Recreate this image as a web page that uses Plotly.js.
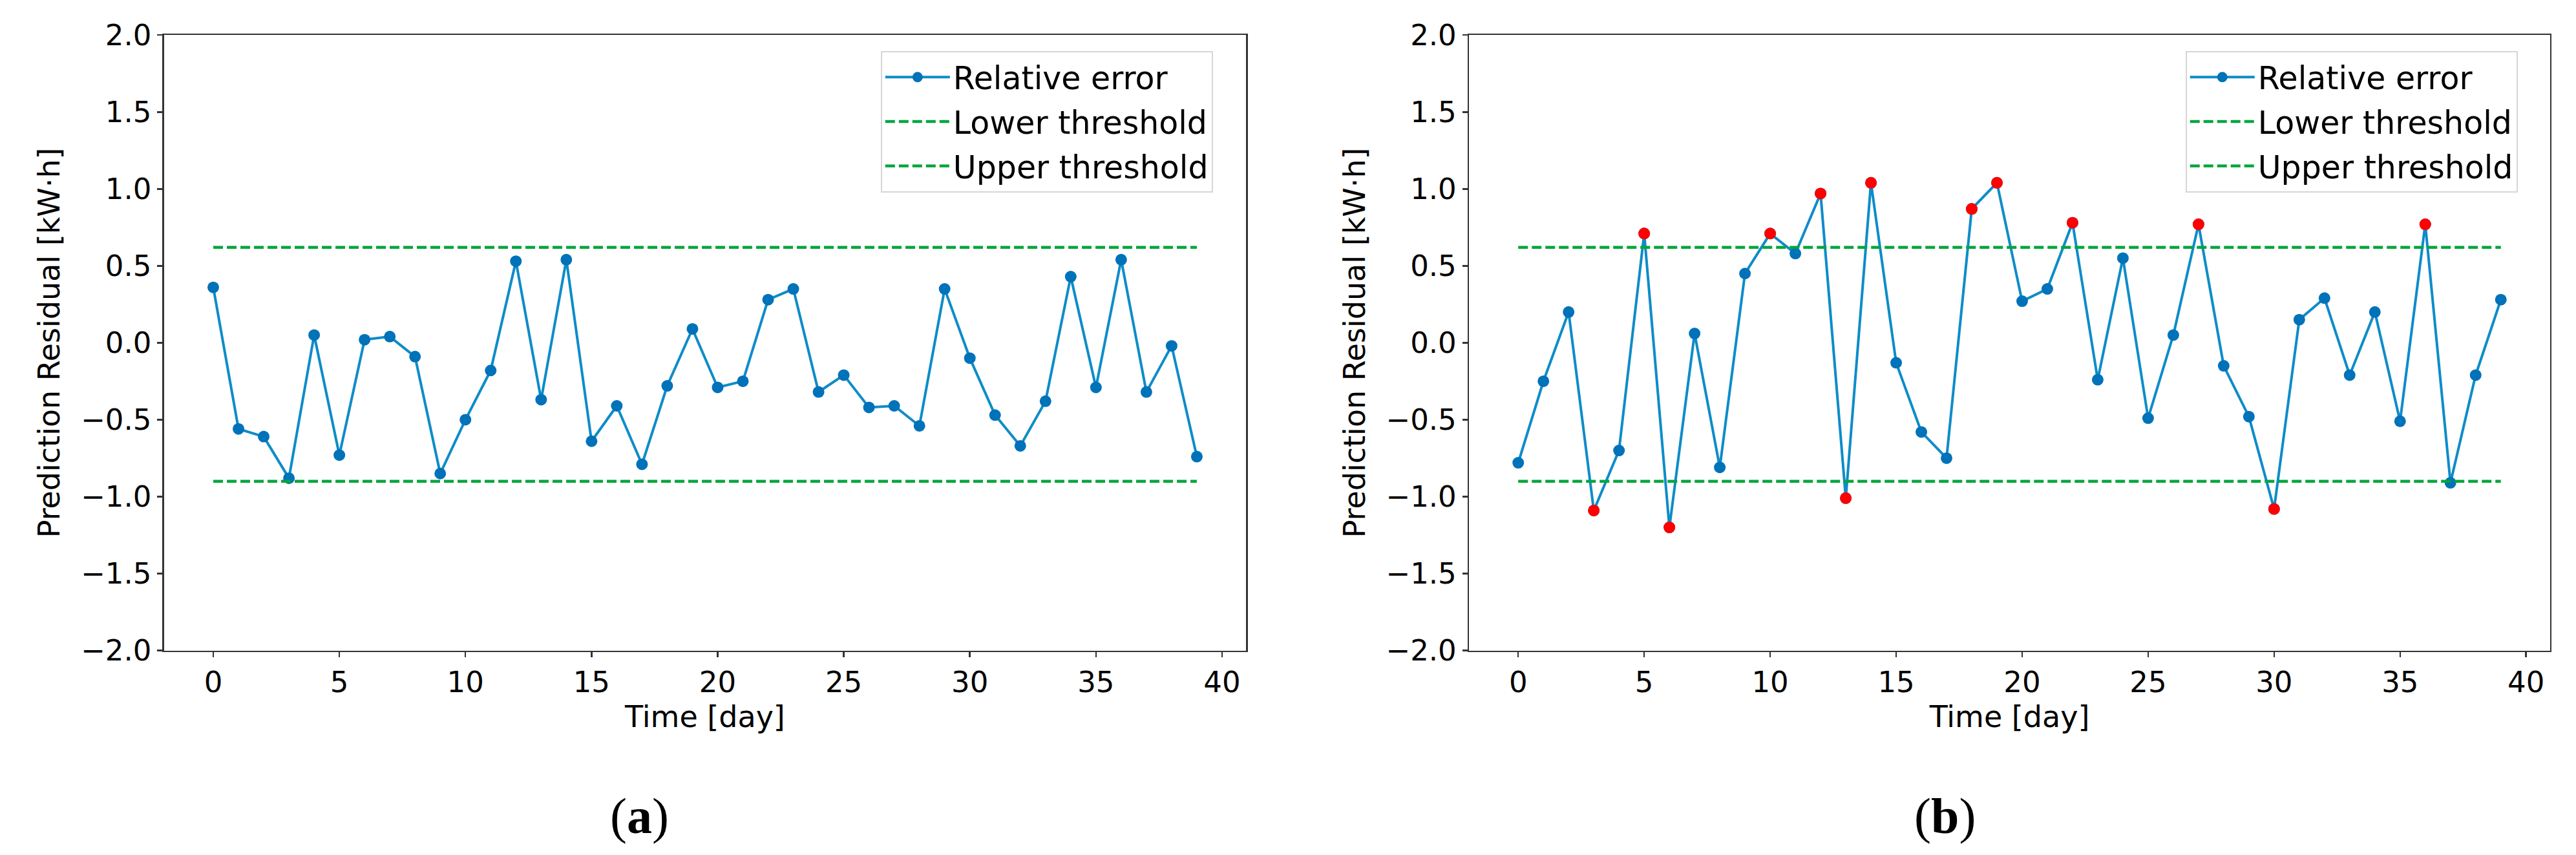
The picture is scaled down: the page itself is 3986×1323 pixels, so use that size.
<!DOCTYPE html>
<html>
<head>
<meta charset="utf-8">
<script src="https://cdn.plot.ly/plotly-3.0.1.min.js"></script>
<style>html,body{margin:0;padding:0;background:#fff;}</style>
</head>
<body>
<div id="chart" style="width:3986px;height:1323px;"></div>
<script>
// ---- data ----
const days = [0,1,2,3,4,5,6,7,8,9,10,11,12,13,14,15,16,17,18,19,20,21,22,23,24,25,26,27,28,29,30,31,32,33,34,35,36,37,38,39];
const residualA = [0.36,-0.56,-0.61,-0.88,0.05,-0.73,0.02,0.04,-0.09,-0.85,-0.50,-0.18,0.53,-0.37,0.54,-0.64,-0.41,-0.79,-0.28,0.09,-0.29,-0.25,0.28,0.35,-0.32,-0.21,-0.42,-0.41,-0.54,0.35,-0.10,-0.47,-0.67,-0.38,0.43,-0.29,0.54,-0.32,-0.02,-0.74];
const residualB = [-0.78,-0.25,0.20,-1.09,-0.70,0.71,-1.20,0.06,-0.81,0.45,0.71,0.58,0.97,-1.01,1.04,-0.13,-0.58,-0.75,0.87,1.04,0.27,0.35,0.78,-0.24,0.55,-0.49,0.05,0.77,-0.15,-0.48,-1.08,0.15,0.29,-0.21,0.20,-0.51,0.77,-0.91,-0.21,0.28];
const anomalyIdxB = [3,5,6,10,12,13,14,18,19,22,27,30,36];
const thresholdSpan = [0, 39];
const lowerThreshold = -0.90;
const upperThreshold = 0.62;
const seriesNames = ["Relative error", "Lower threshold", "Upper threshold"];
const panelLabels = ["(<b>a</b>)", "(<b>b</b>)"];

// ---- styles ----
const lineBlue = "#0e8cc8";
const markBlue = "#0072b9";
const green = "#00a63c";
const red = "#ff0000";
const font = "DejaVu Sans, sans-serif";

function panelTraces(resid, xa, ya, lg) {
  return [
    {x: days, y: resid, xaxis: xa, yaxis: ya, legend: lg, name: seriesNames[0], legendgroup: lg+"r",
     mode: "lines+markers", line: {color: lineBlue, width: 4},
     marker: {color: markBlue, size: 18}},
    {x: thresholdSpan, y: thresholdSpan.map(() => lowerThreshold), xaxis: xa, yaxis: ya, legend: lg,
     name: seriesNames[1], legendgroup: lg+"l", mode: "lines", line: {color: green, width: 4.5, dash: "15px,6px"}},
    {x: thresholdSpan, y: thresholdSpan.map(() => upperThreshold), xaxis: xa, yaxis: ya, legend: lg,
     name: seriesNames[2], legendgroup: lg+"u", mode: "lines", line: {color: green, width: 4.5, dash: "15px,6px"}}
  ];
}

const traces = panelTraces(residualA, "x", "y", "legend")
  .concat(panelTraces(residualB, "x2", "y2", "legend2"));
traces.push({
  x: anomalyIdxB.map(i => days[i]), y: anomalyIdxB.map(i => residualB[i]),
  xaxis: "x2", yaxis: "y2", mode: "markers", showlegend: false,
  marker: {color: red, size: 18}
});

function xAxis(domain, anchor) {
  return {domain: domain, anchor: anchor, range: [-1.95, 40.95], tickmode: "linear", tick0: 0, dtick: 5,
    showgrid: false, zeroline: false, showline: true, mirror: true, linecolor: "#333", linewidth: 2.5,
    ticks: "outside", ticklen: 8, tickwidth: 2.5, tickcolor: "#333",
    tickfont: {family: font, size: 45, color: "#000"},
    title: {text: "Time [day]", font: {family: font, size: 46, color: "#000"}, standoff: 0}};
}
function yAxis(anchor) {
  return {domain: [0.2392, 0.959], anchor: anchor, range: [-2, 2], tickmode: "linear", tick0: 0, dtick: 0.5,
    tickformat: ".1f", showgrid: false, zeroline: false, showline: true, mirror: true, linecolor: "#333", linewidth: 2.5,
    ticks: "outside", ticklen: 8, tickwidth: 2.5, tickcolor: "#333",
    tickfont: {family: font, size: 45, color: "#000"},
    title: {text: "Prediction Residual [kW·h]", font: {family: font, size: 46, color: "#000"}, standoff: 18}};
}
function legendCfg(x) {
  return {x: x, y: 0.9403, xanchor: "left", yanchor: "top", xref: "paper", yref: "paper",
    bgcolor: "rgba(255,255,255,0.85)", bordercolor: "#d6d6d6", borderwidth: 2,
    font: {family: font, size: 49, color: "#000"}, itemwidth: 100, tracegroupgap: 2};
}

const layout = {
  width: 3986, height: 1323,
  margin: {l: 0, r: 0, t: 0, b: 0},
  paper_bgcolor: "#fff", plot_bgcolor: "#fff",
  xaxis: xAxis([0.0637, 0.4837], "y"),
  yaxis: yAxis("x"),
  xaxis2: xAxis([0.5703, 0.9899], "y2"),
  yaxis2: yAxis("x2"),
  legend: legendCfg(0.3419),
  legend2: legendCfg(0.8484),
  annotations: [
    {text: panelLabels[0], x: 0.2482, y: 0.0461, xref: "paper", yref: "paper", showarrow: false,
     xanchor: "center", yanchor: "middle", font: {family: "Liberation Serif, serif", size: 78, color: "#000"}},
    {text: panelLabels[1], x: 0.755, y: 0.0461, xref: "paper", yref: "paper", showarrow: false,
     xanchor: "center", yanchor: "middle", font: {family: "Liberation Serif, serif", size: 78, color: "#000"}}
  ]
};

Plotly.newPlot("chart", traces, layout, {displayModeBar: false, staticPlot: true});
</script>
</body>
</html>
